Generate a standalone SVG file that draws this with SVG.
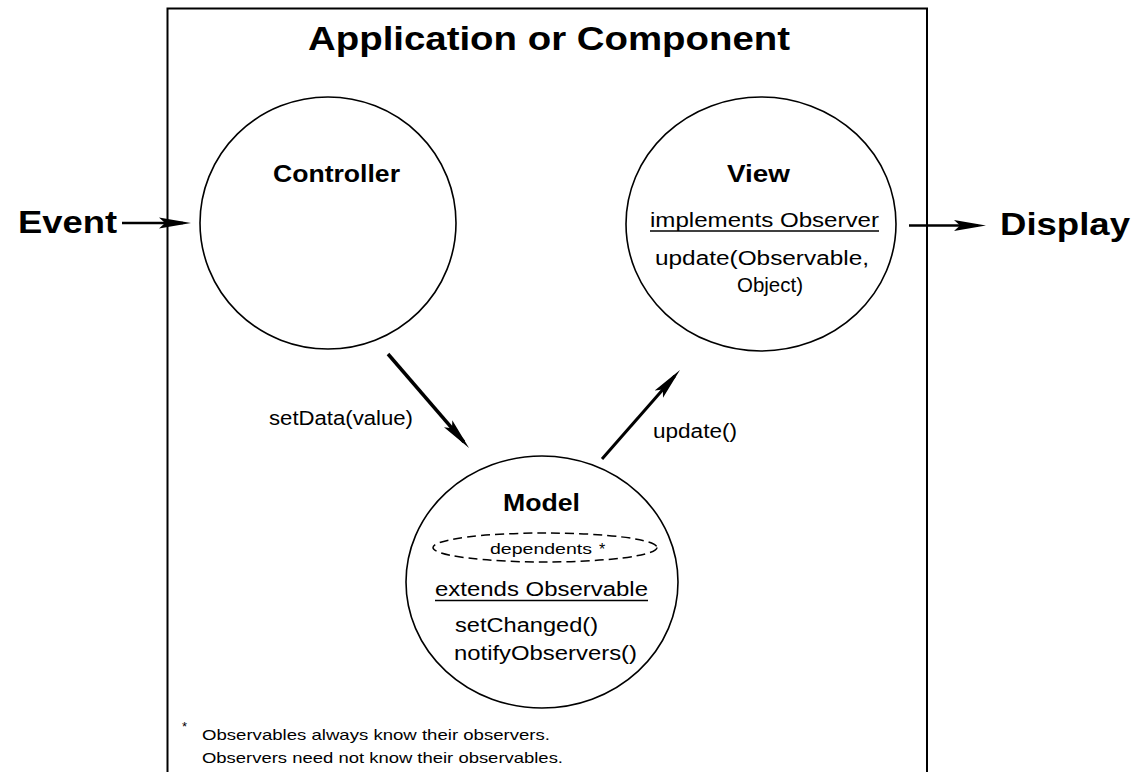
<svg xmlns="http://www.w3.org/2000/svg" width="1133" height="772" viewBox="0 0 1133 772">
<defs>
<style>
.b{font-family:"Liberation Sans",Arial,sans-serif;font-weight:bold;fill:#000}
.r{font-family:"Liberation Sans",Arial,sans-serif;fill:#000}
.node{fill:none;stroke:#000;stroke-width:1.6}
.conn{fill:none;stroke:#000}
.ul{stroke:#000;stroke-width:1.5}
</style>
<marker id="ah" viewBox="0 0 32 12" refX="24" refY="6" markerWidth="32" markerHeight="12" markerUnits="userSpaceOnUse" orient="auto">
<path d="M0,0.5 L32,6 L0,11.5 L6,6 z" fill="#000"/>
</marker>
</defs>
<rect width="1133" height="772" fill="#fff"/>
<g id="frame">
<path d="M167.5,772 V8.5 H927 V772" fill="none" stroke="#000" stroke-width="2"/>
<text class="b" x="308" y="50" font-size="34" textLength="482" lengthAdjust="spacingAndGlyphs">Application or Component</text>
</g>
<g id="controller">
<ellipse class="node" cx="328" cy="223" rx="128" ry="126"/>
<text class="b" x="273" y="182" font-size="23" textLength="127" lengthAdjust="spacingAndGlyphs">Controller</text>
</g>
<g id="view">
<ellipse class="node" cx="761" cy="224" rx="135" ry="127"/>
<text class="b" x="727" y="182" font-size="23" textLength="63" lengthAdjust="spacingAndGlyphs">View</text>
<text class="r" x="650" y="227" font-size="20" textLength="229" lengthAdjust="spacingAndGlyphs">implements Observer</text>
<line class="ul" x1="650" y1="231" x2="879" y2="231"/>
<text class="r" x="655" y="265" font-size="20" textLength="214" lengthAdjust="spacingAndGlyphs">update(Observable,</text>
<text class="r" x="737" y="292" font-size="20" textLength="66" lengthAdjust="spacingAndGlyphs">Object)</text>
</g>
<g id="model">
<ellipse class="node" cx="542" cy="582" rx="136" ry="126"/>
<text class="b" x="503" y="511" font-size="24" textLength="77" lengthAdjust="spacingAndGlyphs">Model</text>
<ellipse cx="545" cy="547.5" rx="112" ry="14.5" fill="none" stroke="#000" stroke-width="1.5" stroke-dasharray="9,5"/>
<text class="r" x="490" y="554" font-size="14" textLength="102" lengthAdjust="spacingAndGlyphs">dependents</text>
<text class="r" x="599" y="555" font-size="16">*</text>
<text class="r" x="435" y="596" font-size="20" textLength="213" lengthAdjust="spacingAndGlyphs">extends Observable</text>
<line class="ul" x1="435" y1="600.5" x2="648" y2="600.5"/>
<text class="r" x="455" y="632" font-size="20" textLength="143" lengthAdjust="spacingAndGlyphs">setChanged()</text>
<text class="r" x="454" y="660" font-size="20" textLength="183" lengthAdjust="spacingAndGlyphs">notifyObservers()</text>
</g>
<g id="event">
<text class="b" x="18" y="233" font-size="31" textLength="99" lengthAdjust="spacingAndGlyphs">Event</text>
</g>
<g id="display">
<text class="b" x="1000" y="235" font-size="31" textLength="130" lengthAdjust="spacingAndGlyphs">Display</text>
</g>
<g id="connectors">
<line class="conn" x1="122" y1="223" x2="183" y2="223" stroke-width="2.5" marker-end="url(#ah)"/>
<line class="conn" x1="909" y1="225.5" x2="978" y2="225.5" stroke-width="2.5" marker-end="url(#ah)"/>
<line class="conn" x1="388" y1="354" x2="463.8" y2="441.9" stroke-width="3.5" marker-end="url(#ah)"/>
<line class="conn" x1="602" y1="459" x2="674.7" y2="376" stroke-width="3" marker-end="url(#ah)"/>
<text class="r" x="269" y="425" font-size="20" textLength="144" lengthAdjust="spacingAndGlyphs">setData(value)</text>
<text class="r" x="653" y="438" font-size="20" textLength="84" lengthAdjust="spacingAndGlyphs">update()</text>
</g>
<g id="footnote">
<text class="r" x="182" y="731" font-size="13">*</text>
<text class="r" x="202" y="740" font-size="15" textLength="348" lengthAdjust="spacingAndGlyphs">Observables always know their observers.</text>
<text class="r" x="202" y="763" font-size="15" textLength="361" lengthAdjust="spacingAndGlyphs">Observers need not know their observables.</text>
</g>
</svg>
